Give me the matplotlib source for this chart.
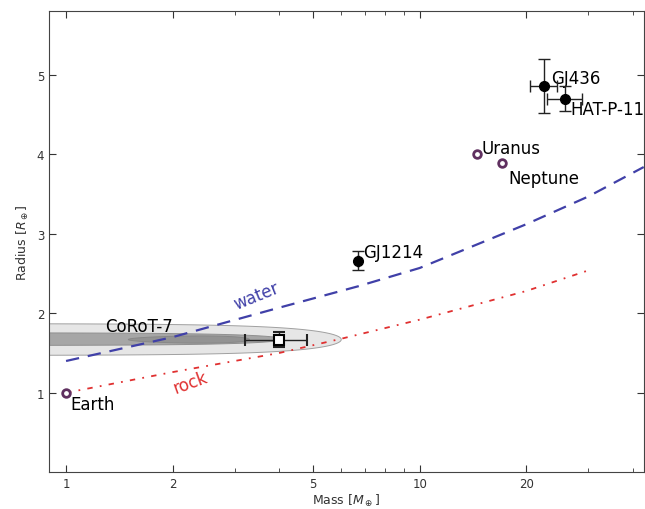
import numpy as np
import matplotlib
matplotlib.use('Agg')
import matplotlib.pyplot as plt
from matplotlib.ticker import FixedLocator, NullFormatter

# solar system planets (open circles)
ss_names = ['Earth', 'Uranus', 'Neptune']
ss_mass = [1.0, 14.5, 17.1]
ss_radius = [1.0, 4.0, 3.89]

# transiting exoplanets with error bars
exo_names = ['GJ436', 'HAT-P-11', 'GJ1214']
exo_mass = [22.5, 25.8, 6.7]
exo_mass_err = [2.0, 2.9, 0.0]
exo_radius = [4.86, 4.70, 2.66]
exo_radius_err = [0.34, 0.16, 0.12]

# CoRoT-7b
corot_mass = 4.0
corot_mass_err = 0.8
corot_radius = 1.67
corot_radius_err = 0.09

# CoRoT-7 confidence regions (center mass, half width, center radius, half height)
regions = [
    (0.0, 6.0, 1.67, 0.20),
    (0.0, 4.1, 1.675, 0.08),
    (2.4, 0.9, 1.67, 0.045),
]
region_colors = ['#e6e6e6', '#a6a6a6', '#939393']
region_edges = ['#a0a0a0', '#909090', '#888888']

# composition models
water_mass = [1, 2, 4, 6.7, 10, 20, 30, 43]
water_radius = [1.40, 1.70, 2.07, 2.34, 2.57, 3.12, 3.47, 3.84]
rock_mass = [1, 2, 4, 6, 10, 20, 30]
rock_radius = [1.0, 1.26, 1.50, 1.68, 1.92, 2.28, 2.54]

fig = plt.figure(figsize=(6.45, 5.10), dpi=100)
ax = fig.add_axes([0.076, 0.072, 0.922, 0.904])
ax.set_xscale('log')

# regions, drawn in linear mass space
for (mc, ma, rc, rb), col, ec in zip(regions, region_colors, region_edges):
    t0 = np.arccos(max(-1.0, (0.3 - mc) / ma))
    t = np.linspace(-t0, t0, 400)
    xs = mc + ma * np.cos(t)
    ys = rc + rb * np.sin(t)
    ax.fill(xs, ys, facecolor=col, edgecolor=ec, lw=0.7, zorder=1)

ax.plot(water_mass, water_radius, color='#4040a8', ls=(0, (6, 4)), lw=1.6, zorder=2)
ax.plot(rock_mass, rock_radius, color='#e03030', ls=(0, (3, 4, 1, 4)), lw=1.3, zorder=2)
ax.text(3.45, 2.22, 'water', color='#4040a8', fontsize=12, rotation=22,
        ha='center', va='center')
ax.text(2.25, 1.13, 'rock', color='#e03030', fontsize=12, rotation=20,
        ha='center', va='center')

ax.plot(ss_mass, ss_radius, 'o', mfc='white', mec='#603060', mew=2, ms=5.5, ls='none', zorder=4)

ax.errorbar(exo_mass, exo_radius, xerr=exo_mass_err, yerr=exo_radius_err, fmt='o',
            color='black', ms=7, ecolor='#222222', elinewidth=1, capsize=4, zorder=4)
ax.errorbar([corot_mass], [corot_radius], xerr=[corot_mass_err], yerr=[corot_radius_err],
            fmt='s', mfc='white', mec='black', mew=1.5, ms=7, ecolor='#222222',
            elinewidth=1, capsize=4, zorder=5)

# labels
fs = 12
ax.text(1.03, 0.86, 'Earth', fontsize=fs, ha='left', va='center')
ax.text(15.0, 4.08, 'Uranus', fontsize=fs, ha='left', va='center')
ax.text(17.8, 3.70, 'Neptune', fontsize=fs, ha='left', va='center')
ax.text(23.5, 4.96, 'GJ436', fontsize=fs, ha='left', va='center')
ax.text(26.6, 4.57, 'HAT-P-11', fontsize=fs, ha='left', va='center')
ax.text(6.9, 2.77, 'GJ1214', fontsize=fs, ha='left', va='center')
ax.text(1.29, 1.84, 'CoRoT-7', fontsize=fs, ha='left', va='center')

ax.set_xlim(0.895, 43)
ax.set_ylim(0.0, 5.8)
ax.xaxis.set_major_locator(FixedLocator([1, 2, 5, 10, 20]))
ax.xaxis.set_minor_locator(FixedLocator([3, 4, 6, 7, 8, 9, 30, 40]))
ax.xaxis.set_minor_formatter(NullFormatter())
ax.set_xticklabels(['1', '2', '5', '10', '20'])
ax.set_yticks([1, 2, 3, 4, 5])
ax.tick_params(which='both', direction='in', top=True, right=True, labelsize=8.5,
               colors='#333333')
ax.tick_params(which='major', length=5)
ax.tick_params(which='minor', length=3)
for s in ax.spines.values():
    s.set_color('#444444')

ax.set_xlabel(r'Mass [$M_\oplus$]', fontsize=9, color='#333333', labelpad=1)
ax.set_ylabel(r'Radius [$R_\oplus$]', fontsize=9, color='#333333')

fig.savefig('out.png', dpi=100)
